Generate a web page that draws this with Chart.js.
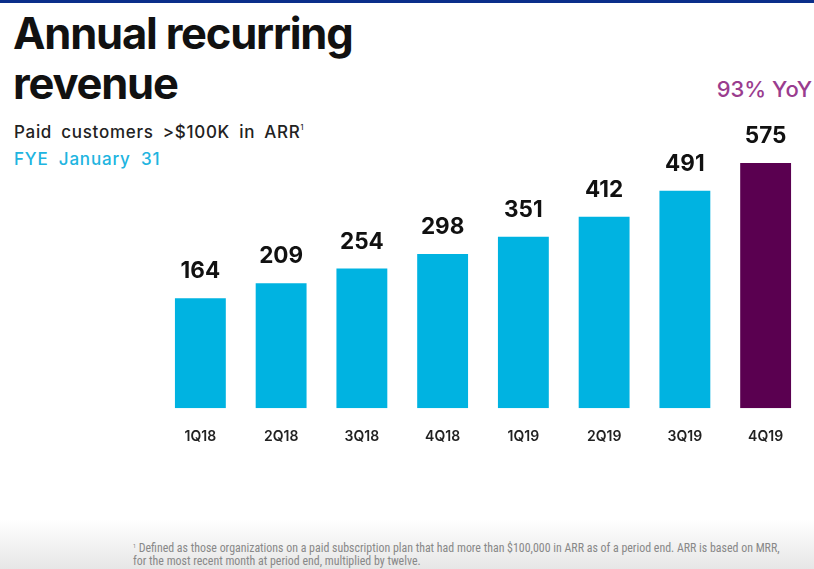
<!DOCTYPE html>
<html>
<head>
<meta charset="utf-8">
<script src="https://cdn.jsdelivr.net/npm/chart.js@4.4.1/dist/chart.umd.min.js"></script>
<style>
  html, body { margin: 0; padding: 0; background: #fff; }
  body { width: 814px; height: 569px; position: relative; overflow: hidden; font-family: Inter, "Noto Sans", sans-serif; }
  .topline { position: absolute; left: 0; top: 0; width: 814px; height: 3px; background: #0a2f8a; }
  .title { position: absolute; left: 13px; top: 8px; font-size: 43.5px; font-weight: 700; line-height: 50px; letter-spacing: -1.2px; color: #111; }
  .sub { position: absolute; left: 14px; top: 122px; font-size: 17px; font-weight: 500; color: #222; word-spacing: 4px; letter-spacing: 0.7px; }
  .sub sup { font-size: 7px; vertical-align: 8px; }
  .fye { position: absolute; left: 14px; top: 149px; font-size: 17px; font-weight: 500; color: #20b4e0; word-spacing: 5px; letter-spacing: 0.8px; }
  .yoy { position: absolute; right: 2px; top: 76px; font-size: 22px; font-weight: 500; color: #9a3c8e; }
  .foot { position: absolute; left: 0; top: 520px; width: 814px; height: 49px; background: linear-gradient(#ffffff, #e6e6e6); }
  .note { position: absolute; left: 133px; top: 539px; font-family: "Liberation Sans Narrow", "Roboto Condensed", Roboto, sans-serif; font-size: 11.9px; line-height: 13px; color: #888; }
  .note sup { font-size: 6px; vertical-align: 4px; }
  #wrap { position: absolute; left: 160px; top: 100px; width: 646px; height: 365px; }
</style>
</head>
<body>
<div class="topline"></div>
<div class="title">Annual recurring<br>revenue</div>
<div class="sub">Paid customers &gt;$100K in ARR<sup>1</sup></div>
<div class="fye">FYE January 31</div>
<div class="yoy">93% YoY</div>
<div class="foot"></div>
<div class="note"><sup>1</sup> Defined as those organizations on a paid subscription plan that had more than $100,000 in ARR as of a period end. ARR is based on MRR,<br>for the most recent month at period end, multiplied by twelve.</div>
<div id="wrap"><canvas id="chart"></canvas></div>
<script>
// ── Data ──
const quarters = ['1Q18', '2Q18', '3Q18', '4Q18', '1Q19', '2Q19', '3Q19', '4Q19'];
const customers = [164, 209, 254, 298, 351, 412, 491, 575];
const barColors = ['#00b3e1', '#00b3e1', '#00b3e1', '#00b3e1', '#00b3e1', '#00b3e1', '#00b3e1', '#5a0050'];

// the slide's bars do not start at zero
const Y_MIN = -171;
const Y_MAX = 767;

// ── Value labels above bars ──
const valueLabels = {
  id: 'valueLabels',
  afterDatasetsDraw(chart) {
    const ctx = chart.ctx;
    const meta = chart.getDatasetMeta(0);
    ctx.save();
    ctx.fillStyle = '#111';
    ctx.font = '700 22.5px Inter, "Noto Sans", sans-serif';
    ctx.textAlign = 'center';
    ctx.textBaseline = 'alphabetic';
    meta.data.forEach((bar, i) => {
      ctx.fillText(String(customers[i]), bar.x, bar.y - 20);
    });
    ctx.restore();
  }
};

new Chart(document.getElementById('chart'), {
  type: 'bar',
  data: {
    labels: quarters,
    datasets: [{
      data: customers,
      base: Y_MIN,
      backgroundColor: barColors,
      borderWidth: 0,
      barPercentage: 0.63,
      categoryPercentage: 1.0,
    }]
  },
  options: {
    responsive: true,
    maintainAspectRatio: false,
    animation: false,
    layout: { padding: 0 },
    plugins: { legend: { display: false }, tooltip: { enabled: false } },
    scales: {
      x: {
        grid: { display: false, drawTicks: false },
        border: { display: false },
        ticks: { color: '#222', padding: 20, font: { family: 'Inter, "Noto Sans", sans-serif', size: 14, weight: '600' } }
      },
      y: {
        display: false,
        min: Y_MIN,
        max: Y_MAX,
      }
    }
  },
  plugins: [valueLabels]
});
</script>
</body>
</html>
